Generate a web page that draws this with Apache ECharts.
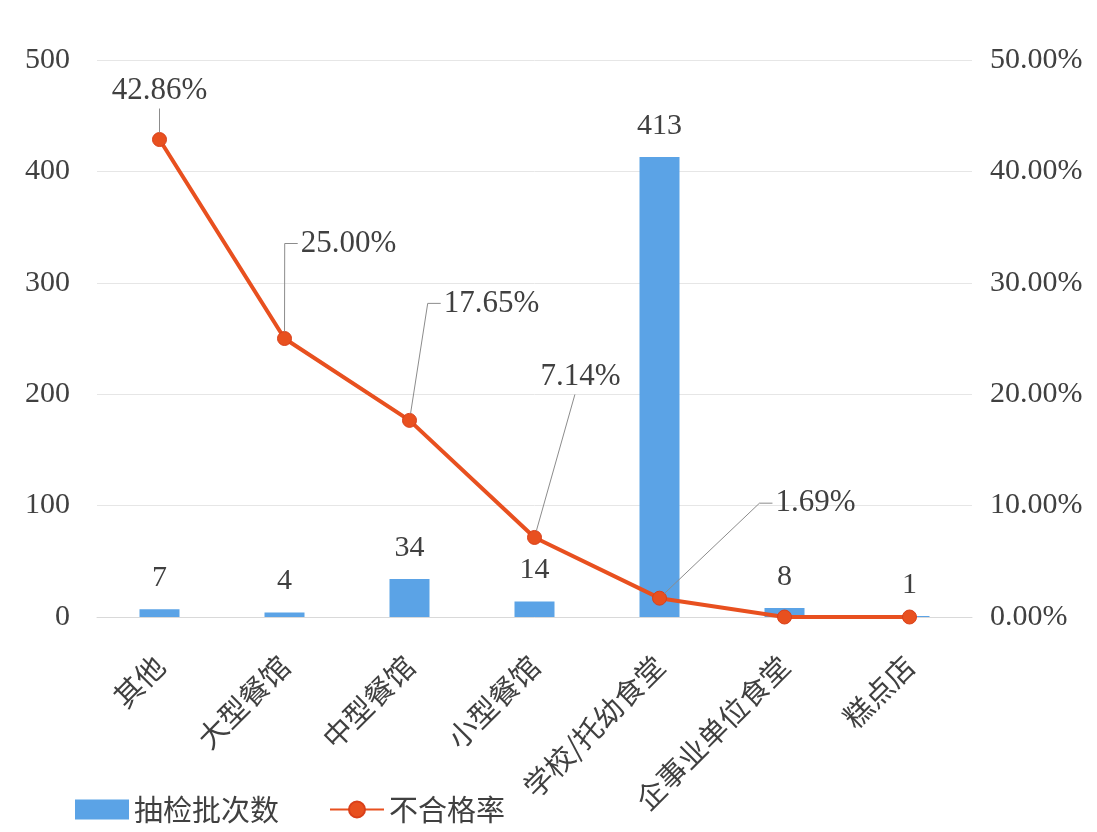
<!DOCTYPE html>
<html>
<head>
<meta charset="utf-8">
<script src="https://cdn.jsdelivr.net/npm/echarts@6/dist/echarts.min.js"></script>
<style>
  html, body { margin: 0; padding: 0; background: #fff; }
  #chart { width: 1097px; height: 832px; }
</style>
</head>
<body>
<div id="chart"></div>
<script>
// 类别与数据
const categories = ['其他', '大型餐馆', '中型餐馆', '小型餐馆', '学校/托幼食堂', '企事业单位食堂', '糕点店'];
const batchCounts = [7, 4, 34, 14, 413, 8, 1];
const failRates = [42.86, 25.00, 17.65, 7.14, 1.69, 0, 0];
const leftTicks = [0, 100, 200, 300, 400, 500];
const rightTicks = [0, 10, 20, 30, 40, 50];

// 折线标签偏移（相对默认 top 位置）及引导线样式
const rateLabelShift = [
  [0, -16, 'bottom', 0.5],
  [64, -62, 'side'],
  [82, -84, 'side'],
  [46, -128, 'bottom', 0.43],
  [156, -62, 'side'],
  null,
  null
];

const serif = '"Liberation Serif", "Times New Roman", serif';
const cjk = '"Noto Sans CJK SC", sans-serif';
const rateFontSize = 31;
const symSize = 14;
const labelDist = 10;

let chart = echarts.init(document.getElementById('chart'));

var option = {
  animation: false,
  backgroundColor: '#fff',
  grid: {
    left: 97,
    right: 125,
    top: 60,
    bottom: 215
  },
  legend: {
    left: 70,
    bottom: 3,
    itemWidth: 54,
    itemHeight: 20,
    itemGap: 50,
    textStyle: { fontFamily: cjk, fontSize: 29, color: '#404040' },
    data: [
      { name: '抽检批次数', icon: 'rect' },
      { name: '不合格率' }
    ]
  },
  xAxis: {
    type: 'category',
    data: categories,
    axisTick: { show: false },
    axisLine: { lineStyle: { color: '#d9d9d9' } },
    axisLabel: {
      rotate: 45,
      interval: 0,
      margin: 44,
      fontFamily: cjk,
      fontSize: 29,
      color: '#404040'
    }
  },
  yAxis: [
    {
      type: 'value',
      min: leftTicks[0],
      max: leftTicks[leftTicks.length - 1],
      interval: 100,
      axisLine: { show: false },
      axisTick: { show: false },
      splitLine: { lineStyle: { color: '#e6e6e6' } },
      axisLabel: { fontFamily: serif, fontSize: 30, color: '#404040', margin: 27 }
    },
    {
      type: 'value',
      min: rightTicks[0],
      max: rightTicks[rightTicks.length - 1],
      interval: 10,
      axisLine: { show: false },
      axisTick: { show: false },
      splitLine: { show: false },
      axisLabel: {
        fontFamily: serif, fontSize: 30, color: '#404040', margin: 18,
        formatter: v => v.toFixed(2) + '%'
      }
    }
  ],
  series: [
    {
      name: '抽检批次数',
      type: 'bar',
      data: batchCounts,
      barWidth: 40,
      itemStyle: { color: '#5BA3E6' },
      label: {
        show: true,
        position: 'top',
        distance: 16,
        fontFamily: serif,
        fontSize: 30,
        color: '#404040'
      }
    },
    {
      name: '不合格率',
      type: 'line',
      yAxisIndex: 1,
      z: 3,
      data: failRates.map(v => v > 0 ? v : { value: v, label: { show: false } }),
      symbol: 'circle',
      symbolSize: symSize,
      lineStyle: { color: '#E8501F', width: 4 },
      itemStyle: { color: '#E8501F', borderColor: '#D9401A', borderWidth: 1 },
      label: {
        show: true,
        position: 'top',
        distance: labelDist,
        fontFamily: serif,
        fontSize: rateFontSize,
        color: '#404040',
        formatter: p => p.value.toFixed(2) + '%'
      },
      labelLayout: function (params) {
        const s = rateLabelShift[params.dataIndex];
        return s ? { dx: s[0], dy: s[1] } : {};
      }
    }
  ]
};
chart.setOption(option);

// 引导线：按坐标轴换算出的点位置绘制
const ctx = document.createElement('canvas').getContext('2d');
ctx.font = rateFontSize + 'px ' + serif;
const guides = [];
failRates.forEach((v, i) => {
  const s = rateLabelShift[i];
  if (!s) return;
  const p = chart.convertToPixel({ xAxisIndex: 0, yAxisIndex: 1 }, [i, v]);
  const cx = p[0], cy = p[1], rad = symSize / 2;
  const w = ctx.measureText(v.toFixed(2) + '%').width;
  const h = 32;
  const bottom = cy - rad - labelDist + s[1];
  const left = cx + s[0] - w / 2;
  let pts;
  if (s[2] === 'side') {
    const tx = left - 16, ty = bottom - h / 2;
    const d = Math.hypot(tx - cx, ty - cy);
    pts = [[cx + (tx - cx) / d * rad, cy + (ty - cy) / d * rad], [tx, ty], [left - 3, ty]];
  } else {
    const ex = left + w * s[3], ey = bottom + 2;
    const d = Math.hypot(ex - cx, ey - cy);
    pts = [[cx + (ex - cx) / d * rad, cy + (ey - cy) / d * rad], [ex, ey]];
  }
  guides.push({
    type: 'polyline',
    z: 10,
    shape: { points: pts },
    style: { stroke: '#8c8c8c', lineWidth: 1, fill: null }
  });
});
chart.setOption({ graphic: guides });
</script>
</body>
</html>
